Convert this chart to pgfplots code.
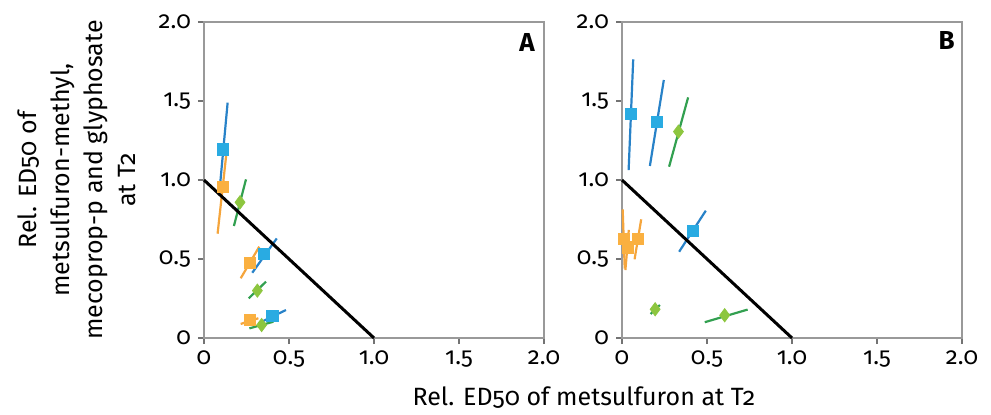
\documentclass[border=0pt]{standalone}
\usepackage{pgfplots}
\pgfplotsset{compat=1.18}
\usepackage{fontspec}
\setmainfont{Fira Sans}[Numbers=OldStyle]
\definecolor{bsq}{RGB}{41,171,226}
\definecolor{bln}{RGB}{40,130,200}
\definecolor{osq}{RGB}{250,176,64}
\definecolor{oln}{RGB}{245,165,60}
\definecolor{gsq}{RGB}{141,198,63}
\definecolor{gln}{RGB}{50,160,80}
\pgfplotsset{
  panel/.style={
    width=170pt, height=158pt, scale only axis,
    xmin=0, xmax=2, ymin=0, ymax=2,
    xtick={0,0.5,1,1.5,2}, ytick={0,0.5,1,1.5,2},
    xticklabels={0,0.5,1.0,1.5,2.0},
    yticklabels={0,0.5,1.0,1.5,2.0},
    tick align=outside, xtick pos=bottom, ytick pos=left,
    major tick length=3pt,
    axis line style={gray!80, line width=0.8pt},
    tick style={gray!90!black, line width=0.8pt},
    tick label style={font=\fontsize{12}{13}\selectfont},
    clip=false,
  },
  eb/.style={line width=1.1pt, no marks},
  bq/.style={only marks, mark=square*, mark size=2.8pt, color=bsq},
  oq/.style={only marks, mark=square*, mark size=2.8pt, color=osq},
  gq/.style={only marks, mark=diamond*, mark size=3.3pt, color=gsq},
}
\begin{document}
\begin{tikzpicture}
\path[use as bounding box] (-102pt,-38pt) rectangle (393.5pt,169pt);
\begin{axis}[panel, name=A, at={(0,0)}, anchor=south west,
  xlabel={Rel. ED50 of metsulfuron at T2},
  xlabel style={at={(axis description cs:1.1176,0)}, anchor=center, yshift=-30pt, font=\fontsize{12.5}{14}\selectfont},
  ylabel={Rel. ED50 of\\metsulfuron-methyl,\\mecoprop-p and glyphosate\\at T2},
  ylabel style={at={(axis description cs:-0.375,0.5)}, anchor=center, rotate=0, align=center, font=\fontsize{12.5}{16.5}\selectfont},
]
% error lines
\addplot[eb, color=bln] coordinates {(0.09,0.916) (0.139,1.49)};
\addplot[eb, color=bln] coordinates {(0.284,0.413) (0.428,0.63)};
\addplot[eb, color=bln] coordinates {(0.32,0.093) (0.482,0.177)};
\addplot[eb, color=oln] coordinates {(0.08,0.66) (0.134,1.19)};
\addplot[eb, color=oln] coordinates {(0.216,0.378) (0.325,0.578)};
\addplot[eb, color=oln] coordinates {(0.216,0.089) (0.32,0.125)};
\addplot[eb, color=gln] coordinates {(0.176,0.709) (0.247,1.004)};
\addplot[eb, color=gln] coordinates {(0.263,0.251) (0.365,0.357)};
\addplot[eb, color=gln] coordinates {(0.267,0.061) (0.408,0.103)};
\addplot[black, line width=1.5pt, no marks] coordinates {(0,1) (1,0)};
\addplot[bq] coordinates {(0.11,1.194) (0.353,0.53) (0.402,0.141)};
\addplot[oq] coordinates {(0.11,0.954) (0.271,0.477) (0.271,0.114)};
\addplot[gq] coordinates {(0.212,0.859) (0.314,0.30) (0.339,0.082)};
\node[font=\bfseries\fontsize{13}{14}\selectfont] at (rel axis cs:0.95,0.935) {A};
\end{axis}
\begin{axis}[panel, name=B, at={(209pt,0)}, anchor=south west]
\addplot[eb, color=bln] coordinates {(0.039,1.063) (0.066,1.764)};
\addplot[eb, color=bln] coordinates {(0.164,1.089) (0.246,1.633)};
\addplot[eb, color=bln] coordinates {(0.336,0.546) (0.493,0.806)};
\addplot[eb, color=gln] coordinates {(0.277,1.084) (0.389,1.523)};
\addplot[eb, color=gln] coordinates {(0.168,0.152) (0.223,0.209)};
\addplot[eb, color=gln] coordinates {(0.487,0.10) (0.739,0.18)};
\addplot[eb, color=oln] coordinates {(0.016,0.44) (0.004,0.814)};
\addplot[eb, color=oln] coordinates {(0.02,0.43) (0.04,0.684)};
\addplot[eb, color=oln] coordinates {(0.074,0.498) (0.113,0.751)};
\addplot[black, line width=1.5pt, no marks] coordinates {(0,1) (1,0)};
\addplot[bq] coordinates {(0.053,1.416) (0.207,1.367) (0.416,0.677)};
\addplot[gq] coordinates {(0.332,1.306) (0.195,0.182) (0.604,0.144)};
\addplot[oq] coordinates {(0.012,0.627) (0.035,0.574) (0.094,0.627)};
\node[font=\bfseries\fontsize{13}{14}\selectfont] at (rel axis cs:0.955,0.94) {B};
\end{axis}
\end{tikzpicture}
\end{document}
